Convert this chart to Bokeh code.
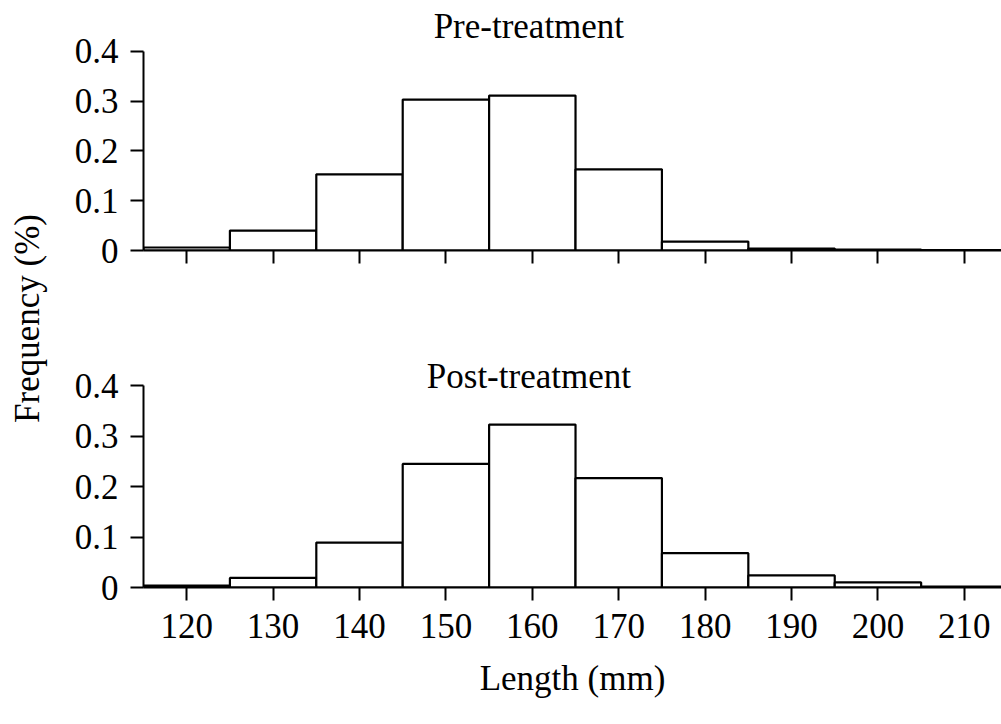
import math
from bokeh.plotting import figure
from bokeh.models import Range1d, FixedTicker, Label, ColumnDataSource
from bokeh.layouts import row, column
from bokeh.embed import file_html
from bokeh.resources import INLINE

# ---- data ----
lengths = [120, 130, 140, 150, 160, 170, 180, 190, 200, 210]
pre_freq = [0.006, 0.040, 0.153, 0.303, 0.311, 0.163, 0.018, 0.004, 0.002, 0.001]
post_freq = [0.004, 0.019, 0.089, 0.245, 0.323, 0.217, 0.068, 0.024, 0.010, 0.002]
bin_width = 10
y_ticks = [0, 0.1, 0.2, 0.3, 0.4]
x_ticks = [120, 130, 140, 150, 160, 170, 180, 190, 200, 210]
titles = ["Pre-treatment", "Post-treatment"]
x_label = "Length (mm)"
y_label = "Frequency (%)"

FONT = "Liberation Serif"
FS = "35px"


def style_axes(p, show_x_labels):
    for ax in (p.xaxis[0], p.yaxis[0]):
        ax.axis_line_width = 2
        ax.axis_line_color = "black"
        ax.major_tick_line_width = 2
        ax.major_tick_line_color = "black"
        ax.major_tick_in = 0
        ax.major_tick_out = 13
        ax.minor_tick_line_color = None
        ax.major_label_text_font = FONT
        ax.major_label_text_font_size = FS
        ax.major_label_text_color = "black"
    p.yaxis[0].ticker = FixedTicker(ticks=y_ticks)
    p.yaxis[0].bounds = (0, 0.4)
    p.yaxis[0].major_label_standoff = 12
    p.yaxis[0].major_label_overrides = {0: "0"}
    p.xaxis[0].ticker = FixedTicker(ticks=x_ticks)
    p.xaxis[0].major_label_standoff = 13
    if not show_x_labels:
        p.xaxis[0].major_label_text_color = None
    p.xgrid.visible = False
    p.ygrid.visible = False
    p.outline_line_color = None


def make_panel(freq, title, height, top_border, bottom_border, ymax, title_y, show_x):
    src = ColumnDataSource(dict(x=lengths, top=freq))
    p = figure(width=941, height=height, x_range=Range1d(115, 214.3),
               y_range=Range1d(0, ymax), output_backend="svg",
               toolbar_location=None, min_border_left=83, min_border_right=0,
               min_border_top=top_border, min_border_bottom=bottom_border)
    p.vbar(x="x", top="top", width=bin_width, bottom=0, source=src,
           fill_color="white", line_color="black", line_width=2.2)
    style_axes(p, show_x)
    p.add_layout(Label(x=159.6, y=title_y, text=title, text_align="center",
                       text_baseline="alphabetic", text_font=FONT,
                       text_font_size=FS, text_color="black"))
    return p


p1 = make_panel(pre_freq, titles[0], 300, 1, 50, 0.5, 0.450, False)
p2 = make_panel(post_freq, titles[1], 424, 55, 137, 0.46, 0.419, True)
p2.xaxis[0].axis_label = x_label
p2.xaxis[0].axis_label_text_font = FONT
p2.xaxis[0].axis_label_text_font_size = FS
p2.xaxis[0].axis_label_text_font_style = "normal"
p2.xaxis[0].axis_label_text_color = "black"
p2.xaxis[0].axis_label_standoff = 18

lab = figure(width=60, height=724, x_range=Range1d(0, 60), y_range=Range1d(0, 724),
             output_backend="svg", toolbar_location=None, min_border=0)
lab.axis.visible = False
lab.xgrid.visible = False
lab.ygrid.visible = False
lab.outline_line_color = None
lab.add_layout(Label(x=27, y=724 - 318, text=y_label, angle=math.pi / 2,
                     text_align="center", text_baseline="alphabetic",
                     text_font=FONT, text_font_size=FS, text_color="black"))

layout = row(lab, column(p1, p2))
open("out.html", "w").write(file_html(layout, INLINE))
